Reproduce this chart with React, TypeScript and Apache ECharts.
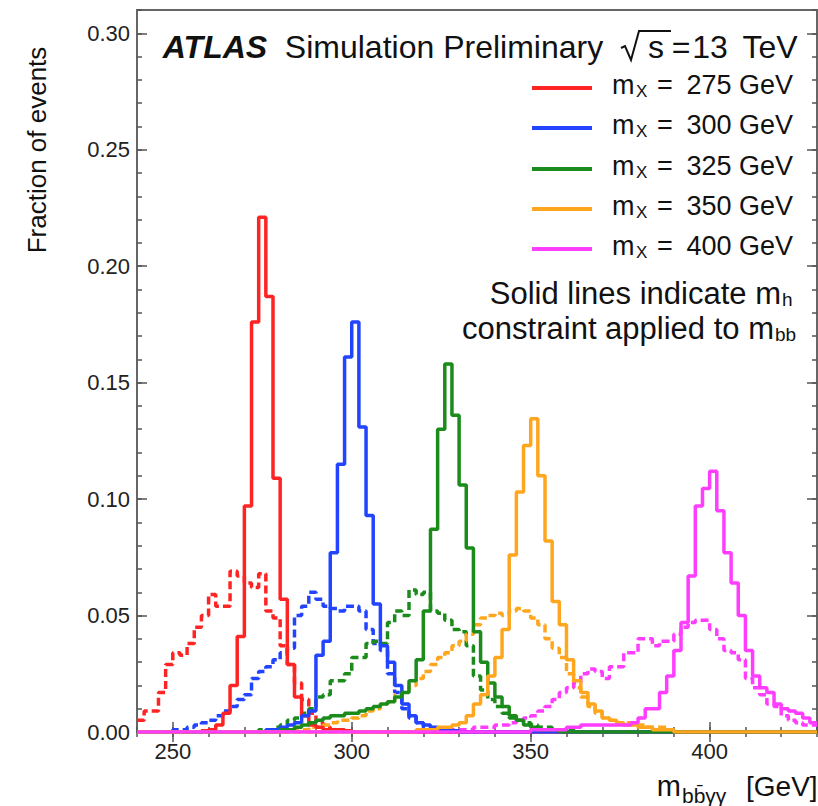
import React, { useEffect, useRef } from 'react';
import * as echarts from 'echarts';

const BIN_WIDTH = 2;
const X_MIN = 240;
const X_MAX = 430;
const Y_MAX = 0.31;
const X_MAJOR_TICKS = [250, 300, 350, 400];
const Y_MAJOR_TICKS = [0, 0.05, 0.1, 0.15, 0.2, 0.25, 0.3];

const masses = [275, 300, 325, 350, 400];
const colors = ['#ff2424', '#2244ff', '#1b8c1b', '#ffa61f', '#ff3dff'];

// Solid: with m_h constraint applied to m_bb. Values per 2 GeV bin, first bin at *Start.
const solid275Start = 258;
const solid275 = [0.0005, 0.001, 0.003, 0.008, 0.020, 0.041, 0.097, 0.176, 0.221, 0.187, 0.109, 0.057, 0.029, 0.015, 0.007, 0.003, 0.002, 0.001, 0.001, 0.0005, 0.0005];

const solid300Start = 276;
const solid300 = [0.001, 0.001, 0.002, 0.003, 0.004, 0.007, 0.009, 0.033, 0.039, 0.077, 0.115, 0.161, 0.176, 0.131, 0.093, 0.055, 0.037, 0.030, 0.020, 0.012, 0.007, 0.004, 0.003, 0.002, 0.001, 0.001, 0.0005];

const solid325Start = 280;
const solid325 = [0.001, 0.001, 0.002, 0.003, 0.004, 0.005, 0.006, 0.007, 0.007, 0.008, 0.008, 0.009, 0.010, 0.011, 0.012, 0.013, 0.015, 0.017, 0.022, 0.031, 0.052, 0.087, 0.130, 0.158, 0.136, 0.106, 0.079, 0.043, 0.030, 0.021, 0.015, 0.011, 0.007, 0.005, 0.003, 0.002, 0.001, 0.001, 0.001];

const solid350Start = 318;
const solid350 = [0.001, 0.001, 0.001, 0.002, 0.002, 0.003, 0.004, 0.007, 0.012, 0.016, 0.024, 0.032, 0.044, 0.076, 0.103, 0.123, 0.1345, 0.110, 0.082, 0.056, 0.046, 0.031, 0.022, 0.017, 0.012, 0.009, 0.006, 0.005, 0.004, 0.003, 0.003, 0.002, 0.002, 0.001, 0.001, 0.001];

const solid400Start = 350;
const solid400 = [0.001, 0.001, 0.001, 0.001, 0.001, 0.002, 0.002, 0.003, 0.003, 0.003, 0.003, 0.003, 0.003, 0.003, 0.004, 0.006, 0.010, 0.010, 0.017, 0.024, 0.035, 0.047, 0.067, 0.097, 0.1045, 0.112, 0.095, 0.077, 0.064, 0.050, 0.035, 0.024, 0.019, 0.017, 0.012, 0.010, 0.009, 0.008, 0.006, 0.004];

// Dashed: without the constraint.
const dashed275Start = 240;
const dashed275 = [0.005, 0.009, 0.009, 0.017, 0.029, 0.034, 0.033, 0.038, 0.045, 0.050, 0.059, 0.054, 0.054, 0.069, 0.067, 0.064, 0.062, 0.068, 0.052, 0.049, 0.037, 0.029, 0.021, 0.014, 0.008, 0.004, 0.002, 0.001, 0.001, 0.0005];

const dashed300Start = 250;
const dashed300 = [0.001, 0.001, 0.002, 0.003, 0.004, 0.005, 0.007, 0.009, 0.011, 0.014, 0.016, 0.023, 0.026, 0.028, 0.031, 0.034, 0.036, 0.050, 0.054, 0.060, 0.057, 0.054, 0.053, 0.052, 0.054, 0.054, 0.052, 0.044, 0.038, 0.035, 0.025, 0.017, 0.010, 0.006, 0.004, 0.002, 0.001, 0.001];

const dashed325Start = 274;
const dashed325 = [0.001, 0.001, 0.002, 0.003, 0.005, 0.006, 0.008, 0.010, 0.015, 0.016, 0.022, 0.022, 0.025, 0.032, 0.032, 0.038, 0.039, 0.038, 0.047, 0.052, 0.050, 0.061, 0.059, 0.060, 0.052, 0.051, 0.048, 0.044, 0.043, 0.037, 0.024, 0.018, 0.014, 0.011, 0.008, 0.006, 0.005, 0.004, 0.003, 0.002, 0.002, 0.001, 0.001, 0.001];

const dashed350Start = 284;
const dashed350 = [0.001, 0.001, 0.002, 0.002, 0.003, 0.004, 0.005, 0.005, 0.006, 0.007, 0.009, 0.010, 0.012, 0.013, 0.016, 0.018, 0.020, 0.023, 0.026, 0.029, 0.032, 0.034, 0.037, 0.039, 0.042, 0.046, 0.049, 0.050, 0.051, 0.050, 0.052, 0.053, 0.052, 0.049, 0.046, 0.040, 0.036, 0.032, 0.025, 0.019, 0.015, 0.011, 0.008, 0.006, 0.005, 0.004, 0.004, 0.003, 0.003, 0.002, 0.002, 0.002, 0.001];

const dashed400Start = 328;
const dashed400 = [0.001, 0.001, 0.001, 0.002, 0.002, 0.002, 0.003, 0.003, 0.004, 0.005, 0.006, 0.007, 0.009, 0.011, 0.014, 0.017, 0.019, 0.021, 0.025, 0.027, 0.026, 0.023, 0.028, 0.028, 0.034, 0.034, 0.040, 0.040, 0.037, 0.039, 0.039, 0.042, 0.045, 0.047, 0.048, 0.048, 0.044, 0.040, 0.035, 0.034, 0.031, 0.023, 0.019, 0.016, 0.012, 0.011, 0.007, 0.005, 0.004, 0.003, 0.003];

const solidSets = [
  { start: solid275Start, values: solid275 },
  { start: solid300Start, values: solid300 },
  { start: solid325Start, values: solid325 },
  { start: solid350Start, values: solid350 },
  { start: solid400Start, values: solid400 },
];
const dashedSets = [
  { start: dashed275Start, values: dashed275 },
  { start: dashed300Start, values: dashed300 },
  { start: dashed325Start, values: dashed325 },
  { start: dashed350Start, values: dashed350 },
  { start: dashed400Start, values: dashed400 },
];

function buildHist(start: number, values: number[]): number[][] {
  const pts: number[][] = [];
  let last = 0;
  for (let e = X_MIN; e < X_MAX; e += BIN_WIDTH) {
    const i = Math.round((e - start) / BIN_WIDTH);
    const v = i >= 0 && i < values.length ? values[i] : 0;
    pts.push([e, v]);
    last = v;
  }
  pts.push([X_MAX, last]);
  return pts;
}

const FONT = '"Liberation Sans", Arial, Helvetica, sans-serif';
const INK = '#111';

export default function App() {
  const ref = useRef<HTMLDivElement>(null);

  useEffect(() => {
    if (!ref.current) return;
    const chart = echarts.init(ref.current, undefined, { renderer: 'svg' });

    const series: any[] = [];
    dashedSets.forEach((s, k) => {
      series.push({
        name: `dashed ${masses[k]}`,
        type: 'line',
        step: 'end',
        showSymbol: false,
        silent: true,
        data: buildHist(s.start, s.values),
        lineStyle: { color: colors[k], width: 3.5, type: [8, 4] },
        z: 2,
      });
    });
    solidSets.forEach((s, k) => {
      series.push({
        name: `solid ${masses[k]}`,
        type: 'line',
        step: 'end',
        showSymbol: false,
        silent: true,
        data: buildHist(s.start, s.values),
        lineStyle: { color: colors[k], width: 3.5, type: 'solid' },
        z: 3,
      });
    });

    const tickColor = '#555';
    const baseX = {
      type: 'value',
      min: X_MIN,
      max: X_MAX,
      splitLine: { show: false },
      axisLine: { show: false },
    };
    const baseY = {
      type: 'value',
      min: 0,
      max: Y_MAX,
      splitLine: { show: false },
      axisLine: { show: false },
    };

    const graphic: any[] = [];
    const txt = (text: string, x: number, y: number, size: number, align: string, extra: any = {}) => ({
      type: 'text',
      x,
      y,
      ...('rotation' in extra ? { rotation: extra.rotation } : {}),
      style: {
        text,
        font: `${extra.style || ''} ${extra.weight || ''} ${size}px ${FONT}`.trim(),
        fill: INK,
        textAlign: align,
        textVerticalAlign: 'middle',
      },
      z: 10,
    });

    // Title line
    graphic.push(txt('ATLAS', 215, 47, 32, 'center', { style: 'italic', weight: 'bold' }));
    graphic.push(txt('Simulation Preliminary', 444, 47, 32, 'center'));
    graphic.push({
      type: 'polyline',
      shape: { points: [[621, 48], [625, 46], [631, 60], [639, 31], [671, 31]] },
      style: { stroke: INK, lineWidth: 2, fill: null },
      z: 10,
    });
    graphic.push(txt('s', 656, 47, 32, 'center'));
    graphic.push(txt('=', 681, 47, 32, 'center'));
    graphic.push(txt('13', 710, 47, 32, 'center'));
    graphic.push(txt('TeV', 770, 47, 32, 'center'));

    // Legend
    const rowY = [88, 128, 169, 209, 249];
    masses.forEach((m, k) => {
      const y = rowY[k];
      graphic.push({
        type: 'line',
        shape: { x1: 532, y1: y, x2: 592, y2: y },
        style: { stroke: colors[k], lineWidth: 4 },
        z: 10,
      });
      graphic.push(txt('m', 612, y - 3, 27, 'left'));
      graphic.push(txt('X', 636, y + 3, 17, 'left'));
      graphic.push(txt('=', 665, y - 3, 27, 'center'));
      graphic.push(txt(`${m} GeV`, 793, y - 3, 27, 'right'));
    });

    // Note
    graphic.push(txt('Solid lines indicate m', 781, 293, 31, 'right'));
    graphic.push(txt('h', 782, 299, 19, 'left'));
    graphic.push(txt('constraint applied to m', 774, 328, 31, 'right'));
    graphic.push(txt('bb', 775, 334, 19, 'left'));

    // Axis titles
    graphic.push(txt('Fraction of events', 37, 150, 26, 'center', { rotation: Math.PI / 2 }));
    graphic.push(txt('m', 681, 786, 29, 'right'));
    graphic.push(txt('bb\u0304\u03b3\u03b3', 682, 795, 21, 'left'));
    graphic.push(txt('[GeV]', 746, 786, 28, 'left'));

    chart.setOption({
      animation: false,
      backgroundColor: '#fff',
      grid: {
        left: 137,
        right: 1,
        top: 10,
        bottom: 74,
        show: true,
        borderColor: '#666',
        borderWidth: 2,
        backgroundColor: 'transparent',
        containLabel: false,
        outerBoundsMode: 'none',
      },
      xAxis: [
        {
          ...baseX,
          position: 'bottom',
          interval: 10,
          axisTick: { show: true, inside: true, length: 5, lineStyle: { color: tickColor, width: 1.5 } },
          axisLabel: {
            show: true,
            margin: 8,
            fontSize: 22,
            fontFamily: FONT,
            color: '#222',
            formatter: (v: number) => (Math.round(v) % 50 === 0 && v > X_MIN && v < X_MAX ? String(Math.round(v)) : ''),
          },
        },
        {
          ...baseX,
          position: 'bottom',
          axisTick: { show: true, inside: true, length: 10, customValues: X_MAJOR_TICKS, lineStyle: { color: tickColor, width: 1.5 } },
          axisLabel: { show: false },
        },
        {
          ...baseX,
          position: 'top',
          interval: 10,
          axisTick: { show: true, inside: true, length: 5, lineStyle: { color: tickColor, width: 1.5 } },
          axisLabel: { show: false },
        },
        {
          ...baseX,
          position: 'top',
          axisTick: { show: true, inside: true, length: 10, customValues: X_MAJOR_TICKS, lineStyle: { color: tickColor, width: 1.5 } },
          axisLabel: { show: false },
        },
      ],
      yAxis: [
        {
          ...baseY,
          position: 'left',
          interval: 0.01,
          axisTick: { show: true, inside: true, length: 5, lineStyle: { color: tickColor, width: 1.5 } },
          axisLabel: {
            show: true,
            margin: 7,
            fontSize: 22,
            fontFamily: FONT,
            color: '#222',
            formatter: (v: number) => {
              const r = Math.round(v * 100);
              return r % 5 === 0 && r <= 30 ? (r / 100).toFixed(2) : '';
            },
          },
        },
        {
          ...baseY,
          position: 'left',
          axisTick: { show: true, inside: true, length: 10, customValues: Y_MAJOR_TICKS, lineStyle: { color: tickColor, width: 1.5 } },
          axisLabel: { show: false },
        },
        {
          ...baseY,
          position: 'right',
          interval: 0.01,
          axisTick: { show: true, inside: true, length: 5, lineStyle: { color: tickColor, width: 1.5 } },
          axisLabel: { show: false },
        },
        {
          ...baseY,
          position: 'right',
          axisTick: { show: true, inside: true, length: 10, customValues: Y_MAJOR_TICKS, lineStyle: { color: tickColor, width: 1.5 } },
          axisLabel: { show: false },
        },
      ],
      series,
      graphic,
    });

    return () => chart.dispose();
  }, []);

  return (
    <div
      ref={ref}
      style={{ position: 'fixed', left: 0, top: 0, width: 818, height: 806, background: '#fff' }}
    />
  );
}
